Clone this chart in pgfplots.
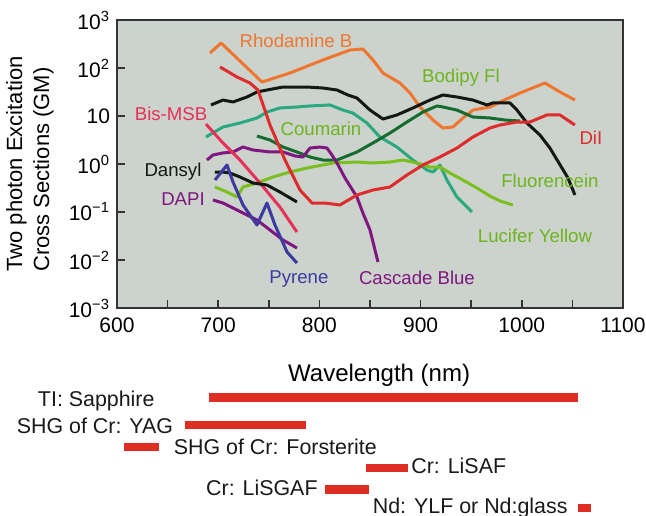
\documentclass[border=0pt]{standalone}
\usepackage{pgfplots}
\pgfplotsset{compat=1.18}
\usepackage{fontspec}
\setmainfont{Liberation Sans}
\definecolor{bg}{RGB}{203,211,204}
\definecolor{rhod}{RGB}{240,118,48}
\definecolor{dii}{RGB}{222,44,44}
\definecolor{bis}{RGB}{232,48,88}
\definecolor{blk}{RGB}{20,24,20}
\definecolor{tealc}{RGB}{42,168,128}
\definecolor{dgreen}{RGB}{22,108,48}
\definecolor{purp}{RGB}{128,22,128}
\definecolor{pyr}{RGB}{60,58,160}
\definecolor{lgreen}{RGB}{122,190,32}
\definecolor{lab}{RGB}{110,180,30}
\definecolor{barred}{RGB}{222,46,36}
\tikzset{
  lbl/.style={font=\fontsize{9.3}{11}\selectfont},
  llbl/.style={font=\fontsize{10.7}{12.5}\selectfont, text=black!90, inner sep=0pt},
  lbar/.style={draw=barred, line width=4.2pt, solid, mark=none},
}
\begin{document}
\begin{tikzpicture}
\path[use as bounding box] (-58.5pt,-103.5pt) rectangle (264.5pt,154pt);
\begin{axis}[
  at={(0,0)}, anchor=south west, scale only axis,
  width=253pt, height=144pt,
  xmin=600, xmax=1100, ymode=log, ymin=1e-3, ymax=1e3,
  axis background/.style={fill=bg},
  axis line style={black!80, line width=0.8pt},
  xtick={600,700,800,900,1000,1100},
  xticklabels={600,700,800,900,1000,1100},
  minor xtick={650,750,850,950,1050},
  ytick={1e-3,1e-2,1e-1,1,10,100,1000},
  yticklabels={10\textsuperscript{−3},10\textsuperscript{−2},10\textsuperscript{−1},10\textsuperscript{0},10,10\textsuperscript{2},10\textsuperscript{3}},
  yminorticks=false,
  tick pos=left, tick align=inside,
  major tick length=4pt, minor tick length=4pt,
  tick style={black!80, line width=0.8pt},
  ticklabel style={font=\fontsize{10.5}{12}\selectfont},
  xticklabel style={yshift=-1.5pt},
  xlabel={Wavelength (nm)},
  xlabel style={at={(axis description cs:0.518,-0.2326)}, anchor=center, font=\fontsize{12}{14}\selectfont},
  ylabel={Two photon Excitation\\Cross Sections (GM)},
  ylabel style={at={(axis description cs:-0.172,0.5)}, anchor=center, align=left, font=\fontsize{11}{13.5}\selectfont},
  clip=false,
  every axis plot/.append style={line width=1.5pt, line join=round, no markers},
]
% Rhodamine B
\addplot[color=rhod] coordinates {(691.9,205)(702.8,332)(743.3,51)(770.9,78.7)(803.5,147)(830.2,237)(843,249)(852.9,147)(862.8,78.7)(879.6,48.7)(889.5,30.1)(899.4,15.4)(912.2,8.25)(922.1,5.62)(932,5.9)(941.8,9.09)(951.7,13.3)(968.5,15.4)(978.4,19.6)(998.2,30.1)(1022.9,48.7)(1037.7,31.6)(1052.5,21.5)};
% black (upper)
\addplot[color=blk] coordinates {(692.9,17.0)(704.7,21.5)(714.6,19.6)(728.4,24.9)(738.3,31.6)(748.2,34.8)(764,40.2)(787.7,40.2)(803.5,38.3)(817.4,34.8)(828.2,27.4)(837.1,23.7)(850,13.3)(862.8,8.66)(876.6,10.5)(892.4,14.7)(909.2,21.5)(922.1,27.4)(935.9,24.9)(951.7,21.5)(965.6,17.0)(971.5,18.7)(988.3,18.7)(995.2,13.3)(1005.1,7.14)(1017.9,4.02)(1027.8,2.15)(1039.7,0.825)(1045.6,0.511)(1052.5,0.226)};
% teal
\addplot[color=tealc] coordinates {(687.9,3.65)(704.7,5.9)(721.5,7.14)(738.3,9.09)(748.2,12.1)(761,14.7)(777.8,15.4)(790.7,16.2)(810.4,17.0)(823.3,13.3)(833.2,11.5)(847,7.14)(859.8,3.65)(876.6,2.26)(892.4,1.21)(906.3,0.75)(912.2,0.681)(919.1,0.953)(926,0.464)(935.9,0.205)(950.7,0.10)};
% dark green
\addplot[color=dgreen] coordinates {(738.3,3.83)(751.2,3.16)(764,2.26)(777.8,1.78)(790.7,1.40)(803.5,1.21)(817.4,1.21)(837.1,1.78)(852.9,2.74)(869.7,4.42)(886.5,7.5)(902.3,12.1)(916.2,16.2)(922.1,15.4)(935.9,13.3)(951.7,9.53)(968.5,9.09)(983.3,8.25)(998.2,7.87)};
% light green (Fluorescein / Lucifer Yellow)
\addplot[color=lgreen] coordinates {(696.8,0.332)(708.7,0.261)(718.6,0.205)(724.5,0.332)(738.3,0.402)(754.1,0.536)(770.9,0.681)(787.7,0.825)(813.4,1.05)(837.1,1.10)(852.9,1.05)(869.7,1.10)(882.6,1.21)(896.4,1.05)(909.2,0.866)(919.1,0.866)(929,0.649)(941.8,0.464)(955.7,0.316)(968.5,0.215)(978.4,0.170)(991.2,0.140)};
% purple (Cascade Blue)
\addplot[color=purp] coordinates {(688.9,1.21)(694.8,1.54)(704.7,1.70)(714.6,1.78)(724.5,2.26)(734.4,1.96)(751.2,1.78)(764,1.78)(775.9,1.47)(783.8,1.40)(790.7,2.15)(800.6,2.26)(807.5,2.15)(812.4,1.54)(817.4,1.05)(825.3,0.511)(837.1,0.205)(843,0.0953)(850,0.0422)(857.9,0.00909)};
% DiI
\addplot[color=dii] coordinates {(701.8,105)(718.6,64.9)(731.4,48.7)(739.3,34.8)(751.2,6.49)(766,1.21)(780.8,0.287)(792.7,0.154)(805.5,0.154)(820.3,0.140)(837.1,0.226)(852.9,0.287)(869.7,0.332)(886.5,0.590)(902.3,0.953)(919.1,1.40)(935.9,2.15)(951.7,3.65)(968.5,5.62)(978.4,6.49)(995.2,7.50)(1008,7.50)(1024.8,10.5)(1037.7,10.5)(1052.5,6.49)};
% Bis-MSB
\addplot[color=bis] coordinates {(687.9,6.81)(704.7,2.74)(721.5,1.21)(741.3,0.402)(761,0.127)(777.8,0.0383)};
% Dansyl
\addplot[color=blk] coordinates {(696.8,0.681)(704.7,0.681)(711.6,0.649)(721.5,0.536)(734.4,0.402)(748.2,0.365)(761,0.261)(777.8,0.162)};
% DAPI
\addplot[color=purp] coordinates {(694.8,0.178)(704.7,0.154)(714.6,0.121)(728.4,0.0866)(738.3,0.0681)(751.2,0.0422)(764,0.0261)(777.8,0.0178)};
% Pyrene
\addplot[color=pyr] coordinates {(696.8,0.464)(708.7,0.953)(714.6,0.422)(724.5,0.140)(738.3,0.0536)(748.2,0.154)(756.1,0.0536)(768,0.0147)(777.8,0.00866)};
% labels
\node[lbl, text=rhod] at (axis cs:776.9,374) {Rhodamine B};
\node[lbl, text=lab] at (axis cs:939.9,61.9) {Bodipy Fl};
\node[lbl, text=bis] at (axis cs:653.4,11.0) {Bis-MSB};
\node[lbl, text=lab] at (axis cs:801.6,5.36) {Coumarin};
\node[lbl, text=dii] at (axis cs:1068.3,3.56) {DiI};
\node[lbl, text=blk] at (axis cs:655.3,0.681) {Dansyl};
\node[lbl, text=purp] at (axis cs:665.2,0.187) {DAPI};
\node[lbl, text=lab] at (axis cs:1027.8,0.442) {Fluorencein};
\node[lbl, text=lab] at (axis cs:1013,0.0316) {Lucifer Yellow};
\node[lbl, text=pyr] at (axis cs:779.8,0.00402) {Pyrene};
\node[lbl, text=purp] at (axis cs:896.4,0.00422) {Cascade Blue};
\end{axis}
\begin{axis}[
  at={(0,-103.5pt)}, anchor=south west, scale only axis,
  width=253pt, height=103.5pt,
  xmin=600, xmax=1100, ymin=-515, ymax=-308,
  hide axis, clip=false,
]
\addplot[lbar] coordinates {(690.6,-397.5)(1056,-397.5)};
\addplot[lbar] coordinates {(666.9,-424.7)(786.6,-424.7)};
\addplot[lbar] coordinates {(606.9,-447)(641.5,-447)};
\addplot[lbar] coordinates {(846.5,-467.7)(887.4,-467.7)};
\addplot[lbar] coordinates {(805.5,-489.5)(849,-489.5)};
\addplot[lbar] coordinates {(1056,-508)(1068.4,-508)};
\node[llbl, anchor=east] at (axis cs:637.5,-401) {TI: Sapphire};
\node[llbl, anchor=east] at (axis cs:655.8,-425.8) {SHG of Cr: YAG};
\node[llbl, anchor=west] at (axis cs:655.8,-447) {SHG of Cr: Forsterite};
\node[llbl, anchor=west] at (axis cs:890.5,-465.8) {Cr: LiSAF};
\node[llbl, anchor=east] at (axis cs:798.6,-487.5) {Cr: LiSGAF};
\node[llbl, anchor=east] at (axis cs:1045.6,-507.5) {Nd: YLF or Nd:glass};
\end{axis}
\end{tikzpicture}
\end{document}
